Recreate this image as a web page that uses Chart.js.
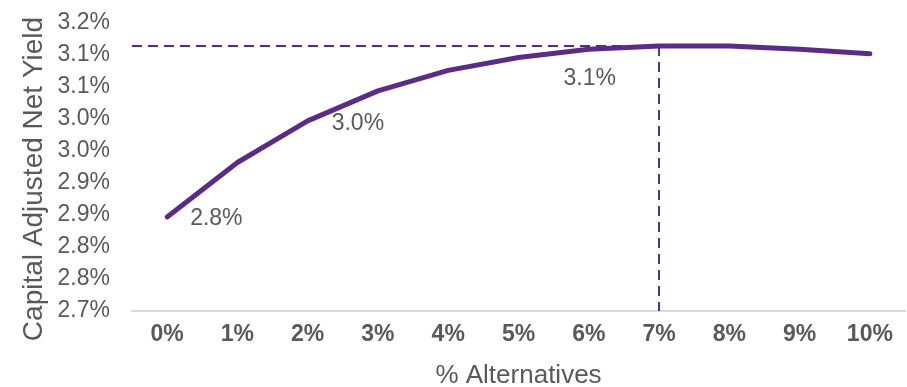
<!DOCTYPE html>
<html lang="en">
<head>
    <meta charset="UTF-8">
    <title>Capital Adjusted Net Yield</title>
    <script src="https://cdn.jsdelivr.net/npm/chart.js"></script>
    <style>
        body { margin: 0; background: #fff; }
        #wrap { width: 907px; height: 387px; }
    </style>
</head>
<body>
    <div id="wrap"><canvas id="yieldChart"></canvas></div>

    <script>
        // dados
        const categories = ['0%', '1%', '2%', '3%', '4%', '5%', '6%', '7%', '8%', '9%', '10%'];
        const netYield = [2.847, 2.932, 2.997, 3.044, 3.076, 3.096, 3.109, 3.114, 3.114, 3.109, 3.102];
        const labelIdx = [0, 2, 5];

        const purple = '#5B2C86';
        const grey = '#595959';
        const fontFam = '"Liberation Sans", Arial, sans-serif';

        // rotulo do eixo: arredonda meio para cima, como o Excel
        function fmtPct(v) {
            return (Math.round(v * 10 + 1e-6) / 10).toFixed(1) + '%';
        }

        // linhas tracejadas ate o ponto maximo
        const peakLines = {
            id: 'peakLines',
            beforeDatasetsDraw(chart) {
                const { ctx, chartArea, scales } = chart;
                const peak = netYield.indexOf(Math.max(...netYield));
                const px = scales.x.getPixelForValue(peak);
                const py = scales.y.getPixelForValue(netYield[peak]);
                ctx.save();
                ctx.strokeStyle = purple;
                ctx.lineWidth = 2;
                ctx.setLineDash([10, 6]);
                ctx.beginPath();
                ctx.moveTo(chartArea.left, py);
                ctx.lineTo(px, py);
                ctx.moveTo(px, py);
                ctx.lineTo(px, chartArea.bottom);
                ctx.stroke();
                ctx.restore();
            }
        };

        // rotulos de dados em alguns pontos + titulo do eixo y
        const pointLabels = {
            id: 'pointLabels',
            afterDatasetsDraw(chart, args, opts) {
                const { ctx, scales } = chart;
                ctx.save();
                ctx.font = '23px ' + fontFam;
                ctx.fillStyle = grey;
                ctx.textAlign = 'left';
                ctx.textBaseline = 'middle';
                labelIdx.forEach((i, k) => {
                    const x = scales.x.getPixelForValue(i) + opts.offsets[k][0];
                    const y = scales.y.getPixelForValue(netYield[i]) + opts.offsets[k][1];
                    ctx.fillText(fmtPct(netYield[i]), x, y);
                });
                // titulo do eixo y, um pouco abaixo do centro como no original
                ctx.font = '28px ' + fontFam;
                ctx.textAlign = 'center';
                ctx.translate(opts.yTitle[0], opts.yTitle[1]);
                ctx.rotate(-Math.PI / 2);
                ctx.fillText('Capital Adjusted Net Yield', 0, 0);
                ctx.restore();
            }
        };

        const ctx = document.getElementById('yieldChart').getContext('2d');
        new Chart(ctx, {
            type: 'line',
            data: {
                labels: categories,
                datasets: [{
                    data: netYield,
                    borderColor: purple,
                    borderWidth: 5,
                    borderCapStyle: 'round',
                    borderJoinStyle: 'round',
                    pointRadius: 0,
                    tension: 0,
                    fill: false
                }]
            },
            plugins: [peakLines, pointLabels],
            options: {
                responsive: true,
                maintainAspectRatio: false,
                animation: false,
                layout: { padding: { top: 23, right: 2, left: 0, bottom: 0 } },
                plugins: {
                    legend: { display: false },
                    tooltip: { enabled: false },
                    pointLabels: { offsets: [[23, 2], [24, 3], [45, 21]], yTitle: [34, 179] }
                },
                scales: {
                    x: {
                        offset: true,
                        grid: { display: false, drawTicks: false },
                        border: { display: true, color: '#d9d9d9', width: 2 },
                        ticks: {
                            color: grey,
                            padding: 10,
                            maxRotation: 0,
                            autoSkip: false,
                            font: { family: fontFam, size: 23, weight: 'bold' }
                        },
                        title: {
                            display: true,
                            text: '% Alternatives',
                            color: grey,
                            padding: { top: 0, bottom: 0 },
                            font: { family: fontFam, size: 26, lineHeight: 0.85 }
                        },
                        afterFit(scale) {
                            scale.height = 76;
                            scale.paddingLeft = 0;
                            scale.paddingRight = 0;
                        }
                    },
                    y: {
                        min: 2.70,
                        max: 3.15,
                        grid: { display: false, drawTicks: false },
                        border: { display: false },
                        ticks: {
                            stepSize: 0.05,
                            autoSkip: false,
                            color: grey,
                            padding: 22,
                            font: { family: fontFam, size: 23 },
                            callback: (v) => fmtPct(v)
                        },
                        afterFit(scale) {
                            scale.width = 132;
                            scale.paddingTop = 0;
                            scale.paddingBottom = 0;
                        }
                    }
                }
            }
        });
    </script>
</body>
</html>
